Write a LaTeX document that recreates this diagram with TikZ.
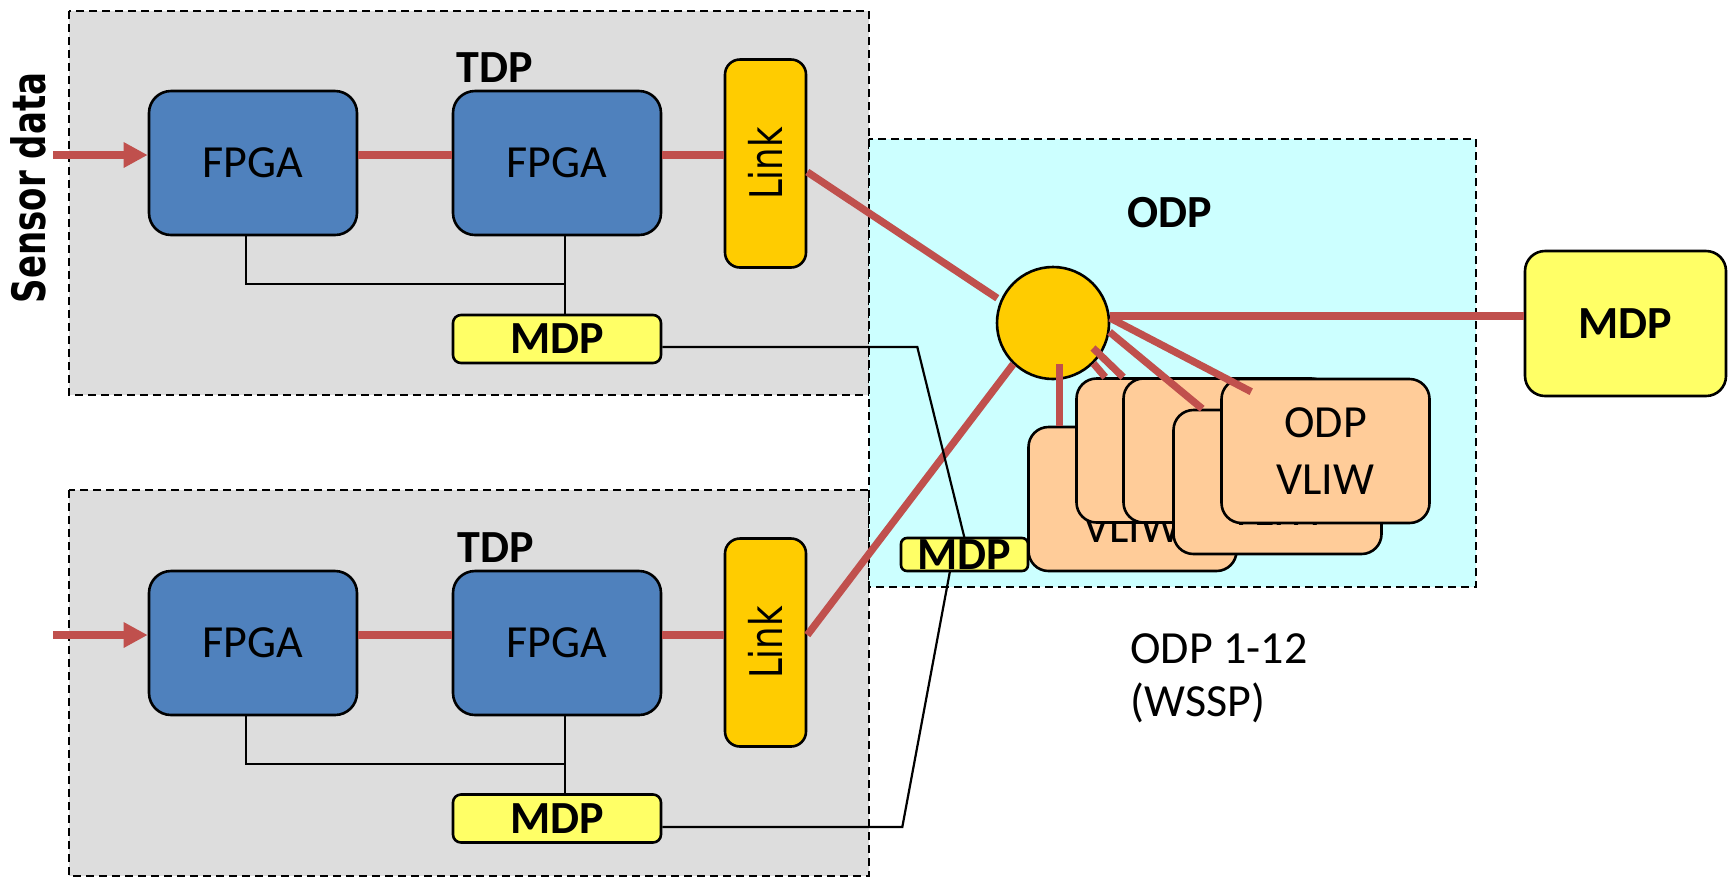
\documentclass[tikz,border=0pt]{standalone}
\usepackage{fontspec}
\setmainfont{Carlito}
\newfontfamily\dejavu{DejaVu Sans}
\usetikzlibrary{arrows.meta,calc}
\definecolor{tdpgray}{RGB}{221,221,221}
\definecolor{odpcyan}{RGB}{204,255,255}
\definecolor{fpgablue}{RGB}{79,129,189}
\definecolor{linkgold}{RGB}{255,204,0}
\definecolor{mdpyellow}{RGB}{255,255,102}
\definecolor{vliworange}{RGB}{255,204,153}
\definecolor{busred}{RGB}{192,80,77}
\begin{document}
\begin{tikzpicture}[x=0.5pt,y=-0.5pt,
  region/.style={draw=black, line width=1.4pt, dash pattern=on 4pt off 2.5pt},
  box/.style={draw=black, line width=1.3pt, inner sep=0pt},
  mainfont/.style={font=\fontsize{23}{27}\selectfont},
  boldfont/.style={font=\bfseries\fontsize{23}{27}\selectfont},
  fpga/.style={box, fill=fpgablue, rounded corners=11pt, minimum width=104pt, minimum height=72pt, mainfont},
  linkbox/.style={box, fill=linkgold, rounded corners=7.5pt, minimum width=40.5pt, minimum height=104pt},
  linktext/.style={rotate=90, inner sep=0pt, font=\dejavu\fontsize{22.5}{27}\selectfont},
  mdpsmall/.style={box, fill=mdpyellow, rounded corners=4pt, minimum width=104pt, minimum height=24pt, boldfont},
  vliw/.style={box, fill=vliworange, rounded corners=10pt, minimum width=104pt, minimum height=72pt, align=center, font=\fontsize{23}{28.5}\selectfont},
  label/.style={inner sep=0pt, boldfont},
  bus/.style={draw=busred, line width=3.65pt},
  busarrow/.style={bus, -{Triangle[length=12pt,width=12pt]}},
  wire/.style={draw=black, line width=1.1pt}]
\useasboundingbox (0,0) rectangle (1728,880);

% processing regions
\draw[region, fill=tdpgray] (69,11) rectangle (869,395);
\draw[region, fill=tdpgray] (69,490) rectangle (869,876);
\draw[region, fill=odpcyan] (869,139) rectangle (1476,587);

% region titles
\node[label] (tdpa) at (495,67.5) {TDP};
\node[label] (tdpb) at (496,547.5) {TDP};
\node[label] (odpl) at (1170,212.5) {ODP};
\node[inner sep=0pt, align=left, anchor=north west, font=\fontsize{23}{26.5}\selectfont] (odpn) at (1130,633) {ODP 1-12\\(WSSP)};
\node[rotate=90, anchor=base, inner sep=0pt, font=\dejavu\bfseries\fontsize{23}{27}\selectfont] (sens) at (45,188) {\scalebox{0.74}[1]{Sensor data}};

% trigger data processors
\node[fpga] (fa1) at (253,163) {FPGA};
\node[fpga] (fa2) at (557,163) {FPGA};
\node[linkbox] (la) at (765.5,163.5) {};
\node[linktext] (lat) at (la.center) {\scalebox{0.79}[1]{Link}};
\node[mdpsmall] (ma) at (557,339) {MDP};

\node[fpga] (fb1) at (253,643) {FPGA};
\node[fpga] (fb2) at (557,643) {FPGA};
\node[linkbox] (lb) at (765.5,642.5) {};
\node[linktext] (lbt) at (lb.center) {\scalebox{0.79}[1]{Link}};
\node[mdpsmall] (mb) at (557,818.5) {MDP};

% external monitoring processor
\node[box, fill=mdpyellow, rounded corners=10pt, minimum width=100.5pt, minimum height=72.5pt, boldfont] (mr) at (1625.5,323.5) {MDP};

% data paths inside the TDPs
\coordinate (a0) at (53,155);
\draw[busarrow] (a0) -- (a0 -| fa1.west);
\coordinate (a1) at ([yshift=4pt]fa1.east);
\draw[bus] (a1) -- (a1 -| fa2.west);
\coordinate (a2) at ([yshift=4pt]fa2.east);
\draw[bus] (a2) -- (a2 -| la.west);

\coordinate (b0) at (53,635);
\draw[busarrow] (b0) -- (b0 -| fb1.west);
\coordinate (b1) at ([yshift=4pt]fb1.east);
\draw[bus] (b1) -- (b1 -| fb2.west);
\coordinate (b2) at ([yshift=4pt]fb2.east);
\draw[bus] (b2) -- (b2 -| lb.west);

% hub and the stack of ODP VLIW processors (back to front)
\node[circle, draw=black, line width=1.3pt, fill=linkgold, minimum size=56pt, inner sep=0pt] (hub) at (1053,323) {};
\node[vliw] (va) at (1132.5,499) {\phantom{ODP}\\VLIW};
\node[vliw] (vb) at (1180.5,450.5) {};
\node[vliw] (vc) at (1227.5,450.5) {};
\node[vliw] (vd) at (1277.5,482) {\phantom{ODP}\\VLIW};
\node[vliw] (ve) at (1325.5,451) {ODP\\VLIW};

% links into the hub
\coordinate (lao) at ([yshift=-4.25pt]la.east);
\coordinate (hin) at ([shift={(156:30.5pt)}]hub.center);
\draw[bus] (lao) -- (hin);
\coordinate (lbo) at ([yshift=3.75pt]lb.east);
\draw[bus] (lbo) -- (hub.226);
\coordinate (h0) at ([yshift=3.5pt]hub.east);
\draw[bus] (h0) -- (h0 -| mr.west);

% hub fan-out to the processors
\draw[bus] (hub.5) -- ($(ve.north west)+(31,14)$);
\draw[bus] (hub.-9) -- ($(vd.north west)+(30,0)$);
\draw[bus] ($(hub.center)+(40,25)$) -- ($(vb.north west)+(48,0)$);
\draw[bus] (hub.-45) -- ($(vb.north west)+(30,0)$);
\coordinate (v1) at ($(va.north west)+(32,0)$);
\coordinate (v0) at ($(v1 |- hub.south)+(0,-16)$);
\draw[bus] (v0) -- (v1);

% monitoring wires
\coordinate (ja) at ($(fa2.south)+(8,48)$);
\draw[wire] ($(fa1.south)+(-7,0)$) |- (ja);
\coordinate (ta) at ($(fa2.south)+(8,0)$);
\draw[wire] (ta) -- (ta |- ma.north);

\coordinate (jb) at ($(fb2.south)+(8,48)$);
\draw[wire] ($(fb1.south)+(-7,0)$) |- (jb);
\coordinate (tb) at ($(fb2.south)+(8,0)$);
\draw[wire] (tb) -- (tb |- mb.north);

\coordinate (mo) at (964.5,554.5);
\coordinate (mon) at (964.5,538);
\coordinate (mos) at (950,571);
\coordinate (ka) at ($(ma.east)+(0,8)$);
\draw[wire] (ka) -- ++(255,0) -- (mon);
\coordinate (kc) at ($(mb.east)+(0,8.5)$);
\draw[wire] (kc) -- ++(240,0) -- (mos);
\node[mdpsmall, minimum width=63.5pt, minimum height=16.5pt, rounded corners=3pt] (mdpo) at (mo) {MDP};
\end{tikzpicture}
\end{document}
